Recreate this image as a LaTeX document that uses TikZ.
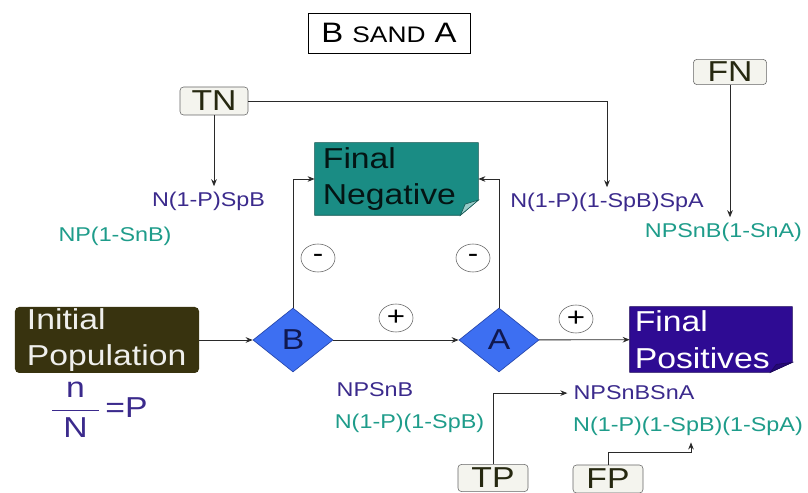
\documentclass[tikz,border=0pt]{standalone}
\usepackage{amsmath}
\usepackage{fontspec}
\setmainfont{Liberation Sans}[FakeStretch=1.17]
\usetikzlibrary{shapes.geometric,backgrounds,arrows.meta}

\definecolor{linegrey}{HTML}{2A2A2A}
\definecolor{olivebox}{HTML}{38330F}
\definecolor{tealbox}{HTML}{1A8C84}
\definecolor{indigobox}{HTML}{2E0B93}
\definecolor{testblue}{HTML}{3D6FF2}
\definecolor{testedge}{HTML}{1B3AA0}
\definecolor{testtext}{HTML}{101850}
\definecolor{labpurple}{HTML}{3B2A8C}
\definecolor{labteal}{HTML}{1E9C8A}
\definecolor{tagfill}{HTML}{F4F4EE}
\definecolor{tagtext}{HTML}{262810}

\newcommand{\bigtxt}{\fontsize{20.5}{26}\selectfont}
\newcommand{\labtxt}{\fontsize{14.2}{17}\selectfont}

\begin{document}
\begin{tikzpicture}[x=0.25mm, y=-0.25mm, >={Stealth[length=5pt,width=4pt]},
		tag/.style={draw=gray!80!black, fill=tagfill, rounded corners=2.5pt, text=tagtext, font=\bigtxt, inner sep=0pt},
		box/.style={font=\bigtxt, align=left, inner ysep=0pt},
		test/.style={diamond, draw=testedge, fill=testblue, text=testtext, font=\bigtxt, minimum width=2cm, minimum height=1.6cm, inner sep=0pt},
		sign/.style={ellipse, draw=gray!75!black, minimum width=0.85cm, minimum height=0.7cm, inner sep=0pt, font=\fontsize{19}{19}\selectfont},
		lab/.style={font=\labtxt, anchor=base, inner sep=0.15cm},
		link/.style={draw=linegrey, line width=0.6pt}]
		\useasboundingbox (0,0) rectangle (808,493);

		\node[draw=black, line width=0.7pt, minimum width=4.05cm, minimum height=1cm, font=\fontsize{20}{20}\selectfont] (title) at (389,33) {B {\fontsize{16}{16}\selectfont SAND} A};

		\node[tag, minimum width=1.7cm, minimum height=0.7cm] (TN) at (214,101) {TN};
		\node[tag, minimum width=1.83cm, minimum height=0.63cm] (FN) at (730,72) {FN};
		\node[tag, minimum width=1.75cm, minimum height=0.68cm] (TP) at (493,478) {TP};
		\node[tag, minimum width=1.75cm, minimum height=0.7cm] (FP) at (608,479) {FP};

		\node[box, fill=olivebox, rounded corners=3pt, text=white!92!olivebox, inner xsep=0.3cm, text width=4.0cm, minimum height=1.65cm] (init) at (107,340) {Initial\\Population};
		\node[box, text=black!85!tealbox, inner xsep=0.2cm, text width=3.68cm, minimum height=1.8cm] (neg) at (396.5,179) {Final\\Negative};
		\node[box, text=white, inner xsep=0.12cm, text width=3.81cm, minimum height=1.63cm] (pos) at (711,339.5) {Final\\Positives};

		\begin{scope}[on background layer]
			\filldraw[fill=tealbox, draw=tealbox!60!black] (neg.north west) -- (neg.north east) -- ([yshift=0.38cm]neg.south east) -- ([xshift=-0.45cm]neg.south east) -- (neg.south west) -- cycle;
			\filldraw[fill=tealbox!45!white, draw=tealbox!60!black] ([yshift=0.38cm]neg.south east) -- ([xshift=-0.45cm]neg.south east) -- ([xshift=-0.33cm,yshift=0.28cm]neg.south east) -- cycle;
			\filldraw[fill=indigobox, draw=indigobox!60!black] (pos.north west) -- (pos.north east) -- ([yshift=0.25cm]pos.south east) -- ([xshift=-0.55cm]pos.south east) -- (pos.south west) -- cycle;
			\filldraw[fill=indigobox!80!black, draw=indigobox!60!black] ([yshift=0.25cm]pos.south east) -- ([xshift=-0.55cm]pos.south east) -- ([xshift=-0.4cm,yshift=0.2cm]pos.south east) -- cycle;
		\end{scope}

		\node[test] (B) at (293,340) {B};
		\node[test] (A) at (499,340) {A};

		\node[sign] (minusB) at (318,258) {-};
		\node[sign] (minusA) at (473,258) {-};
		\node[sign] (plusB) at (396,318) {+};
		\node[sign] (plusA) at (576,319) {+};

		\node[lab, text=labpurple] (tnB) at (208.5,207) {N(1-P)SpB};
		\node[lab, text=labteal] (fnB) at (115,242) {NP(1-SnB)};
		\node[lab, text=labpurple] (tnA) at (607,208) {N(1-P)(1-SpB)SpA};
		\node[lab, text=labteal] (fnA) at (723.5,238) {NPSnB(1-SnA)};
		\node[lab, text=labpurple] (tpB) at (375,397) {NPSnB};
		\node[lab, text=labteal] (fpB) at (409.5,429) {N(1-P)(1-SpB)};
		\node[lab, text=labpurple] (tpA) at (634,400) {NPSnBSnA};
		\node[lab, text=labteal] (fpA) at (688,432) {N(1-P)(1-SpB)(1-SpA)};

		\node[text=labpurple, font=\bigtxt] (ratio) at (99,410) {$\dfrac{\hspace{8pt}\text{n}\hspace{8pt}}{\hspace{8pt}\text{N}\hspace{8pt}}$\,=P};

		\draw[link,->] (init) -- (B);
		\draw[link,->] (B) -- (A);
		\draw[link,->] (A) -- (pos);
		\draw[link,->] (B.north) |- (neg.west);
		\draw[link,->] (A.north) |- (neg.east);

		\draw[link,->] (TN.south) -- (TN.south |- tnB.north);
		\draw[link,->] (TN.east) -| (tnA.north);
		\draw[link,->] (FN.south) -- (FN.south |- fnA.north);
		\draw[link,->] (TP.north) |- (tpA.west);
		\coordinate (fpbend) at (691,452);
		\draw[link,->] (FP.north) |- (fpbend) -- (fpbend |- fpA.south);
	\end{tikzpicture}
\end{document}
